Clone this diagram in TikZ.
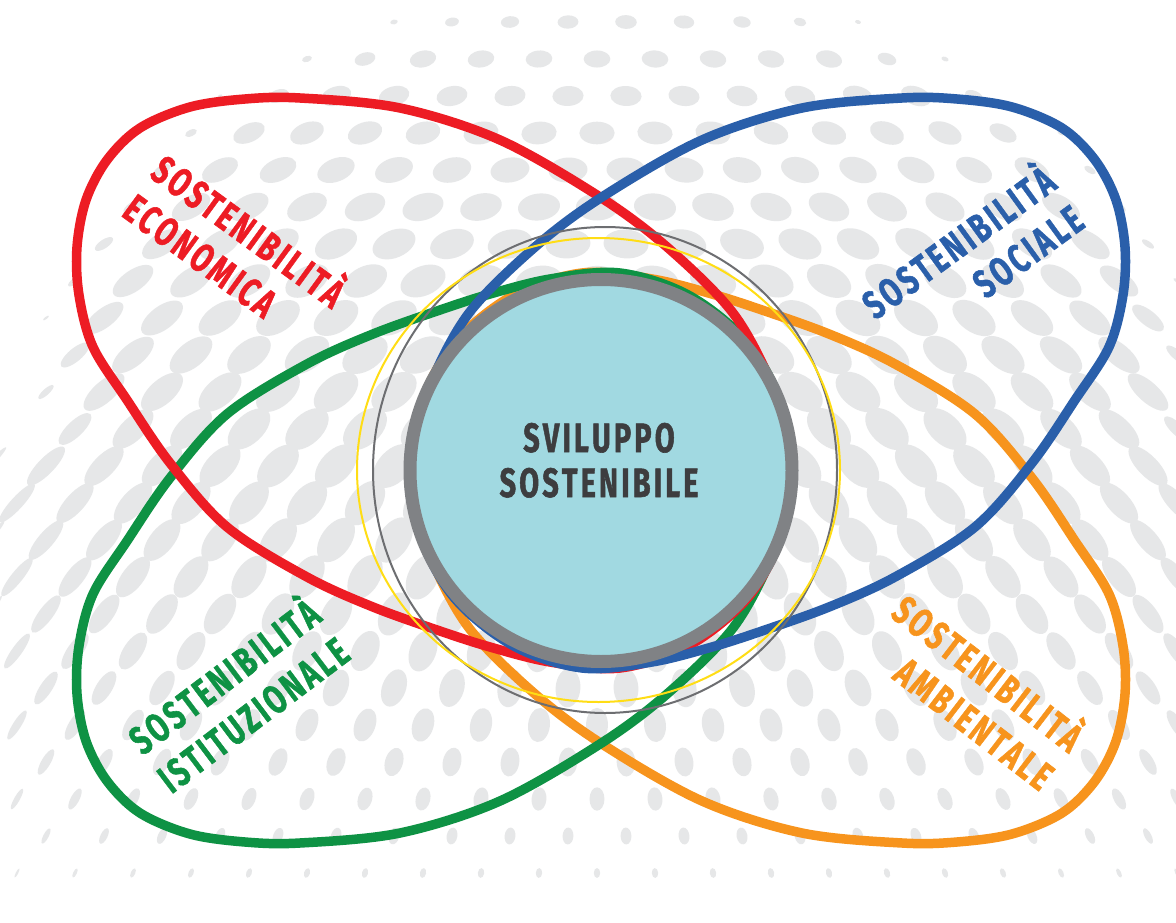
\documentclass[tikz,border=0pt]{standalone}
\usepackage{fontspec}
\usepackage{graphicx}
\usetikzlibrary{calc}
\newfontfamily\labfont[FakeBold=1.5]{Fira Sans}
\makeatletter
\def\spl#1{\spl@#1\relax\unkern}
\def\spl@#1{\ifx#1\relax\else#1\kern4.4pt\expandafter\spl@\fi}
\makeatother
\newcommand\nar[1]{\scalebox{0.705}[1]{\spl{#1}}}
\definecolor{cred}{HTML}{ED1C24}
\definecolor{cblue}{HTML}{2A5FAA}
\definecolor{cgreen}{HTML}{0E9244}
\definecolor{corange}{HTML}{F7941D}
\definecolor{ccyan}{HTML}{A1D9E1}
\definecolor{cgray}{HTML}{808285}
\definecolor{cthin}{HTML}{6D6E71}
\definecolor{cyellow}{HTML}{FFDD15}
\definecolor{cdot}{HTML}{E6E7E8}
\definecolor{ctxt}{HTML}{3D3D3F}
\tikzset{
  band/.style={line width=9.5pt},
  lab/.style={font=\labfont\bfseries\fontsize{40}{48}\selectfont, inner sep=0pt},
  ctext/.style={font=\labfont\bfseries\fontsize{41}{45}\selectfont, text=ctxt, inner sep=0pt}
}
\newcommand\eggshape[1]{\draw[band,#1] plot[smooth cycle, tension=0.55] coordinates {
(77,247) (86,200) (107,160) (140,128) (190,107) (245,99) (300,98) (400,108) (500,140)
(600,197) (667,247) (733,313) (772,385) (792,450) (785,525) (750,595) (690,645) (620,668)
(550,662) (490,647) (440,631) (373,607) (307,577) (227,527) (170,463) (127,400) (93,347) (79,295)};}
\begin{document}
\begin{tikzpicture}[x=1pt,y=-1pt]
\useasboundingbox (0,0) rectangle (1176,923);
\fill[white] (0,0) rectangle (1176,923);
% background halftone dots
\foreach \j in {0,...,24}{
 \foreach \i in {0,...,21}{
  \pgfmathsetmacro\px{\i*58+mod(\j,2)*29-12}
  \pgfmathsetmacro\py{\j*37+22}
  \pgfmathsetmacro\uu{(\px-620)/640}
  \pgfmathsetmacro\tone{(\py<450)?(1-((450-\py)/560)^2):(1-((\py-450)/470)^2)}
  \pgfmathsetmacro\vt{(\py-430)/430}
  \pgfmathsetmacro\corner{(\py<430)?(1-4*max(0,1.3*\uu*\uu+\vt*\vt-0.9)):1}
  \pgfmathsetmacro\corner{min(1,\corner)}
  \pgfmathsetmacro\aa{26*\tone*\corner}
  \pgfmathsetmacro\au{abs(\uu)}
  \pgfmathsetmacro\lim{1-(\au)^2.5}
  \ifdim\aa pt>1.2pt
   \ifdim\lim pt>0.01pt
    \pgfmathsetmacro\kk{0.64*sqrt(\lim)}
    \pgfmathsetmacro\bb{\aa*\kk}
    \pgfmathsetmacro\ph{atan2(450-\py,\px-600)}
    \pgfmathsetmacro\ph{(\ph<90)?(\ph+360):\ph}
    \pgfmathsetmacro\th{(\ph-90)/2}
    \fill[cdot, shift={(\px,\py)}, rotate=\th] (0,0) ellipse [x radius=\aa pt, y radius=\bb pt];
   \fi
  \fi
 }
}
% bands
\begin{scope}[shift={(1202,941)}, scale=-1]\eggshape{corange}\end{scope}
\begin{scope}[shift={(0,941)}, yscale=-1]\eggshape{cgreen}\end{scope}
\eggshape{cred}
\begin{scope}[shift={(1202,0)}, xscale=-1]\eggshape{cblue}\end{scope}
% thin rings
\draw[cthin, line width=2pt] (605,470) ellipse [x radius=232pt, y radius=243pt];
\draw[cyellow, line width=2pt] (598.5,470) ellipse [x radius=241.5pt, y radius=232pt];
% central circle
\draw[fill=ccyan, draw=cgray, line width=13pt] (601,470.5) circle [radius=191pt];
\node[ctext, anchor=base] (c1) at (599,452) {\nar{SVILUPPO}};
\node[ctext, anchor=base] (c2) at (599,497) {\nar{SOSTENIBILE}};
% labels
\node[lab, text=cred, rotate=-36, anchor=base] (r1) at (240,243) {\nar{SOSTENIBILITÀ}};
\node[lab, text=cred, rotate=-36, anchor=base west] (r2) at ($(r1.base west)+(-28.2,38.8)$) {\nar{ECONOMICA}};
\node[lab, text=cblue, rotate=36, anchor=base] (b1) at (967,254) {\nar{SOSTENIBILITÀ}};
\node[lab, text=cblue, rotate=36, anchor=base east] (b2) at ($(b1.base east)+(28.2,38.8)$) {\nar{SOCIALE}};
\node[lab, text=cgreen, rotate=37, anchor=base] (g1) at (233,688) {\nar{SOSTENIBILITÀ}};
\node[lab, text=cgreen, rotate=37, anchor=base west] (g2) at ($(g1.base west)+(28.9,38.4)$) {\nar{ISTITUZIONALE}};
\node[lab, text=corange, rotate=-37.5, anchor=base] (o1) at (979,685) {\nar{SOSTENIBILITÀ}};
\node[lab, text=corange, rotate=-37.5, anchor=base east] (o2) at ($(o1.base east)+(-29.2,38.1)$) {\nar{AMBIENTALE}};
\end{tikzpicture}
\end{document}
